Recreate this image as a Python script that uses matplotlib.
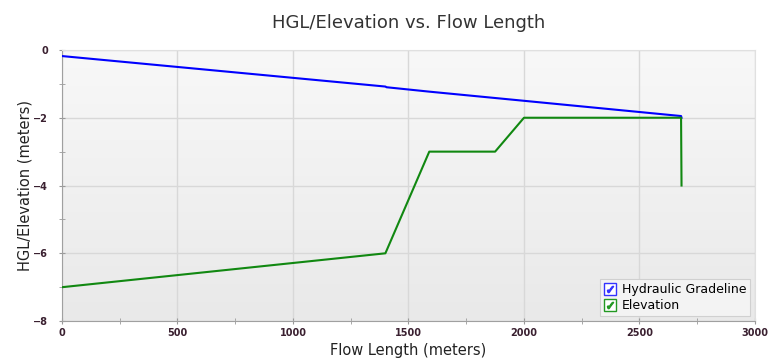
import numpy as np
import matplotlib
matplotlib.use("Agg")
import matplotlib.pyplot as plt
from matplotlib.colors import LinearSegmentedColormap
from matplotlib.lines import Line2D
from matplotlib.legend_handler import HandlerTuple
from matplotlib.ticker import MultipleLocator

# data
hgl_x = [0, 1400, 1405, 1590, 2000, 2680, 2682]
hgl_y = [-0.18, -1.08, -1.10, -1.23, -1.50, -1.95, -2.0]

elev_x = [0, 1400, 1590, 1875, 2000, 2680, 2682]
elev_y = [-7.0, -6.0, -3.0, -3.0, -2.0, -2.0, -4.0]

fig = plt.figure(figsize=(7.7, 3.62), dpi=100)
ax = fig.add_axes([0.0805, 0.113, 0.900, 0.749])

# light grey gradient background
grad = np.linspace(0, 1, 256).reshape(-1, 1)
bg = LinearSegmentedColormap.from_list("bg", ["#f8f8f8", "#e9e9e9"])
ax.imshow(grad, cmap=bg, aspect="auto", extent=[0, 1, 0, 1],
          transform=ax.transAxes, zorder=0)

ax.plot(hgl_x, hgl_y, color="#0000ff", linewidth=1.5, zorder=3)
ax.plot(elev_x, elev_y, color="#118811", linewidth=1.5, zorder=3)

ax.set_xlim(0, 3000)
ax.set_ylim(-8, 0)
ax.xaxis.set_major_locator(MultipleLocator(500))
ax.xaxis.set_minor_locator(MultipleLocator(250))
ax.yaxis.set_major_locator(MultipleLocator(2))
ax.yaxis.set_minor_locator(MultipleLocator(1))
ax.grid(True, which="major", color="#d8d8d8", linewidth=1, zorder=1)
ax.set_axisbelow(True)
ax.tick_params(which="both", direction="inout", colors="#999999", labelcolor="#3a2030",
               labelsize=7, length=4)
ax.tick_params(axis="x", pad=3)
ax.tick_params(axis="y", pad=8)
for lbl in ax.get_xticklabels() + ax.get_yticklabels():
    lbl.set_fontweight("bold")

for s in ["left", "bottom"]:
    ax.spines[s].set_color("#a0a0a0")
for s in ["top", "right"]:
    ax.spines[s].set_color("#e0e0e0")

ax.set_title("HGL/Elevation vs. Flow Length", fontsize=13, color="#333333", pad=16)
ax.set_xlabel("Flow Length (meters)", fontsize=10.5, color="#222222")
ax.set_ylabel("HGL/Elevation (meters)", fontsize=10.5, color="#222222")
ax.xaxis.set_label_coords(0.5, -0.08)
ax.yaxis.set_label_coords(-0.043, 0.5)

def check_handle(c):
    box = Line2D([], [], marker="s", markersize=8, markerfacecolor="white",
                 markeredgecolor=c, linestyle="none")
    tick = Line2D([], [], marker=r"$\checkmark$", markersize=4.5, color=c, linestyle="none")
    return (box, tick)

leg = ax.legend([check_handle("#3333ff"), check_handle("#229922")],
                ["Hydraulic Gradeline", "Elevation"],
                handler_map={tuple: HandlerTuple(ndivide=1, pad=0)},
                loc="lower right", fontsize=9, handlelength=0.9, handletextpad=0.5,
                borderpad=0.3, labelspacing=0.25, fancybox=False, framealpha=1,
                facecolor="#f3f3f3", edgecolor="#d0d0d0", borderaxespad=0.4)
leg.get_frame().set_linewidth(0.8)

fig.savefig("out.png", dpi=100)
